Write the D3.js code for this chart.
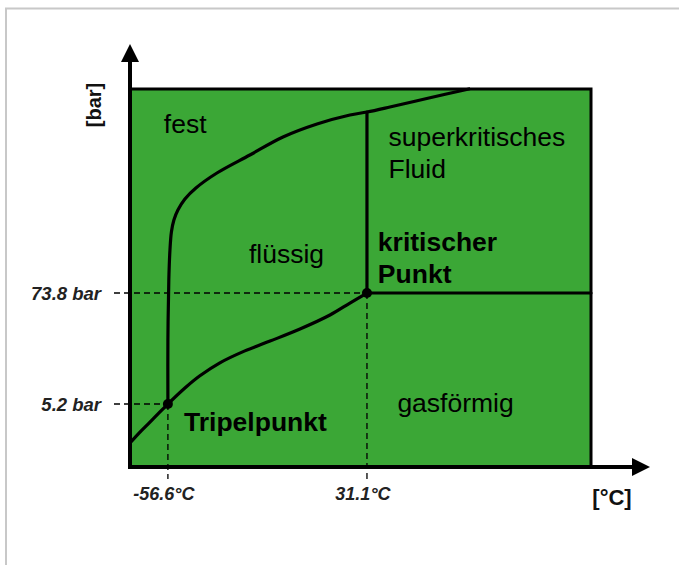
<!DOCTYPE html>
<html><head><meta charset="utf-8">
<script src="https://cdn.jsdelivr.net/npm/d3@7"></script>
<style>body{margin:0;background:#fff;} svg{display:block;} text{font-family:"Liberation Sans",Arial,sans-serif;}</style>
</head><body>
<svg id="c" width="679" height="565"></svg>
<script>
// ---- data (schematic CO2 phase diagram, T in °C, p in bar) ----
const triplePoint = {T: -56.6, p: 5.2};
const criticalPoint = {T: 31.1, p: 73.8};
const xTickValues = [-56.6, 31.1];
const xTickLabels = ["-56.6°C", "31.1°C"];
const yTickValues = [5.2, 73.8];
const yTickLabels = ["5.2 bar", "73.8 bar"];
const tempDomain = [-73.3, 129.8];
const pressDomain = [1.154, 9670];
// sublimation curve
const sublimationT = [-73.3, -68.9, -64.5, -60.1, -56.6];
const sublimationP = [2.05, 2.66, 3.38, 4.30, 5.2];
// vaporization curve
const vaporT = [-56.6, -49.1, -42.5, -33.7, -22.7, -11.6, 1.6, 14.8, 23.6, 31.1];
const vaporP = [5.2, 7.62, 10.2, 13.9, 18.5, 23.4, 31.2, 43.6, 58.1, 73.8];
// melting curve
const meltT = [-56.6, -56.6, -56.2, -55.7, -55.06, -53.96, -52.2, -49.1, -44.26, -35.0, -20.5, -5.9, 9.1, 23.6, 31.1, 41.2, 58.4, 76.0];
const meltP = [5.2, 24.0, 100.7, 206, 317, 422, 536, 698, 908, 1299, 1997, 3070, 4190, 5195, 5580, 6290, 7800, 9670];
// supercritical boundaries
const critVerticalP = [73.8, 5580];
const critHorizontalT = [31.1, 129.8];
// region labels
const regionLabels = [
  {lines: ["fest"], T: -58.4, p: 3380, bold: false},
  {lines: ["superkritisches", "Fluid"], T: 40.6, p: 2475, bold: false},
  {lines: ["flüssig"], T: -20.9, p: 150, bold: false},
  {lines: ["kritischer", "Punkt"], T: 35.9, p: 200, bold: true},
  {lines: ["gasförmig"], T: 44.5, p: 4.3, bold: false},
  {lines: ["Tripelpunkt"], T: -49.5, p: 2.73, bold: true}
];

// ---- drawing ----
const svg = d3.select("#c");
const x = d3.scaleLinear().domain(tempDomain).range([130, 591]);
const y = d3.scaleLog().domain(pressDomain).range([467, 89]);
const green = "#3ba736";

// frame
svg.append("line").attr("x1",5).attr("x2",679).attr("y1",8.5).attr("y2",8.5).attr("stroke","#c8c8c8").attr("stroke-width",2);
svg.append("line").attr("x1",6).attr("x2",6).attr("y1",8).attr("y2",565).attr("stroke","#c8c8c8").attr("stroke-width",2);

// green field
svg.append("rect").attr("x",x(tempDomain[0])).attr("y",y(pressDomain[1]))
  .attr("width",x(tempDomain[1])-x(tempDomain[0])).attr("height",y(pressDomain[0])-y(pressDomain[1]))
  .attr("fill",green).attr("stroke","#000").attr("stroke-width",3);

// dashed guides
const dash = svg.append("g").attr("stroke","#000").attr("stroke-width",1.3).attr("stroke-dasharray","6,4").attr("fill","none");
[triplePoint, criticalPoint].forEach(pt => {
  dash.append("line").attr("x1",114).attr("x2",x(pt.T)).attr("y1",y(pt.p)).attr("y2",y(pt.p));
  dash.append("line").attr("x1",x(pt.T)).attr("x2",x(pt.T)).attr("y1",y(pt.p)).attr("y2",479);
});

// curves
const line = d3.line().x(d=>x(d[0])).y(d=>y(d[1])).curve(d3.curveCatmullRom.alpha(0.5));
const zip = (a,b)=>a.map((v,i)=>[v,b[i]]);
const curves = svg.append("g").attr("fill","none").attr("stroke","#000").attr("stroke-width",3.2).attr("stroke-linecap","round");
curves.append("path").attr("d", line(zip(sublimationT, sublimationP)));
curves.append("path").attr("d", line(zip(vaporT, vaporP)));
curves.append("path").attr("d", line(zip(meltT, meltP)));
curves.append("line").attr("x1",x(criticalPoint.T)).attr("x2",x(criticalPoint.T)).attr("y1",y(critVerticalP[0])).attr("y2",y(critVerticalP[1]));
curves.append("line").attr("x1",x(critHorizontalT[0])).attr("x2",x(critHorizontalT[1])).attr("y1",y(criticalPoint.p)).attr("y2",y(criticalPoint.p));

// points
[triplePoint, criticalPoint].forEach(pt => {
  svg.append("circle").attr("cx",x(pt.T)).attr("cy",y(pt.p)).attr("r",5).attr("fill","#000");
});

// axes with arrows
const ax = svg.append("g");
ax.append("line").attr("x1",130).attr("x2",130).attr("y1",469).attr("y2",58).attr("stroke","#000").attr("stroke-width",4);
ax.append("path").attr("d","M121,62 L139,62 L130,44 Z").attr("fill","#000");
ax.append("line").attr("x1",128).attr("x2",636).attr("y1",467).attr("y2",467).attr("stroke","#000").attr("stroke-width",4);
ax.append("path").attr("d","M632,458 L632,476 L650,467 Z").attr("fill","#000");

// tick labels
xTickValues.forEach((v,i)=>{
  svg.append("text").attr("x",x(v)-4).attr("y",500).attr("text-anchor","middle")
    .attr("font-size",18).attr("font-weight","bold").attr("font-style","italic").attr("fill","#222").text(xTickLabels[i]);
});
yTickValues.forEach((v,i)=>{
  svg.append("text").attr("x",101).attr("y",y(v)+6.5).attr("text-anchor","end")
    .attr("font-size",18.5).attr("font-weight","bold").attr("font-style","italic").attr("fill","#222").text(yTickLabels[i]);
});
// axis titles
svg.append("text").attr("transform","translate(101,105) rotate(-90)").attr("text-anchor","middle")
  .attr("font-size",20).attr("font-weight","bold").attr("fill","#111").text("[bar]");
svg.append("text").attr("x",612).attr("y",505).attr("text-anchor","middle")
  .attr("font-size",22).attr("font-weight","bold").attr("fill","#111").text("[°C]");

// region labels
regionLabels.forEach(l=>{
  const t = svg.append("text").attr("x",x(l.T)).attr("y",y(l.p)).attr("font-size",26.5)
    .attr("font-weight", l.bold ? "bold" : "normal").attr("fill","#000");
  l.lines.forEach((s,i)=>{ t.append("tspan").attr("x",x(l.T)).attr("dy", i===0?0:31.5).text(s); });
});
</script>
</body></html>
